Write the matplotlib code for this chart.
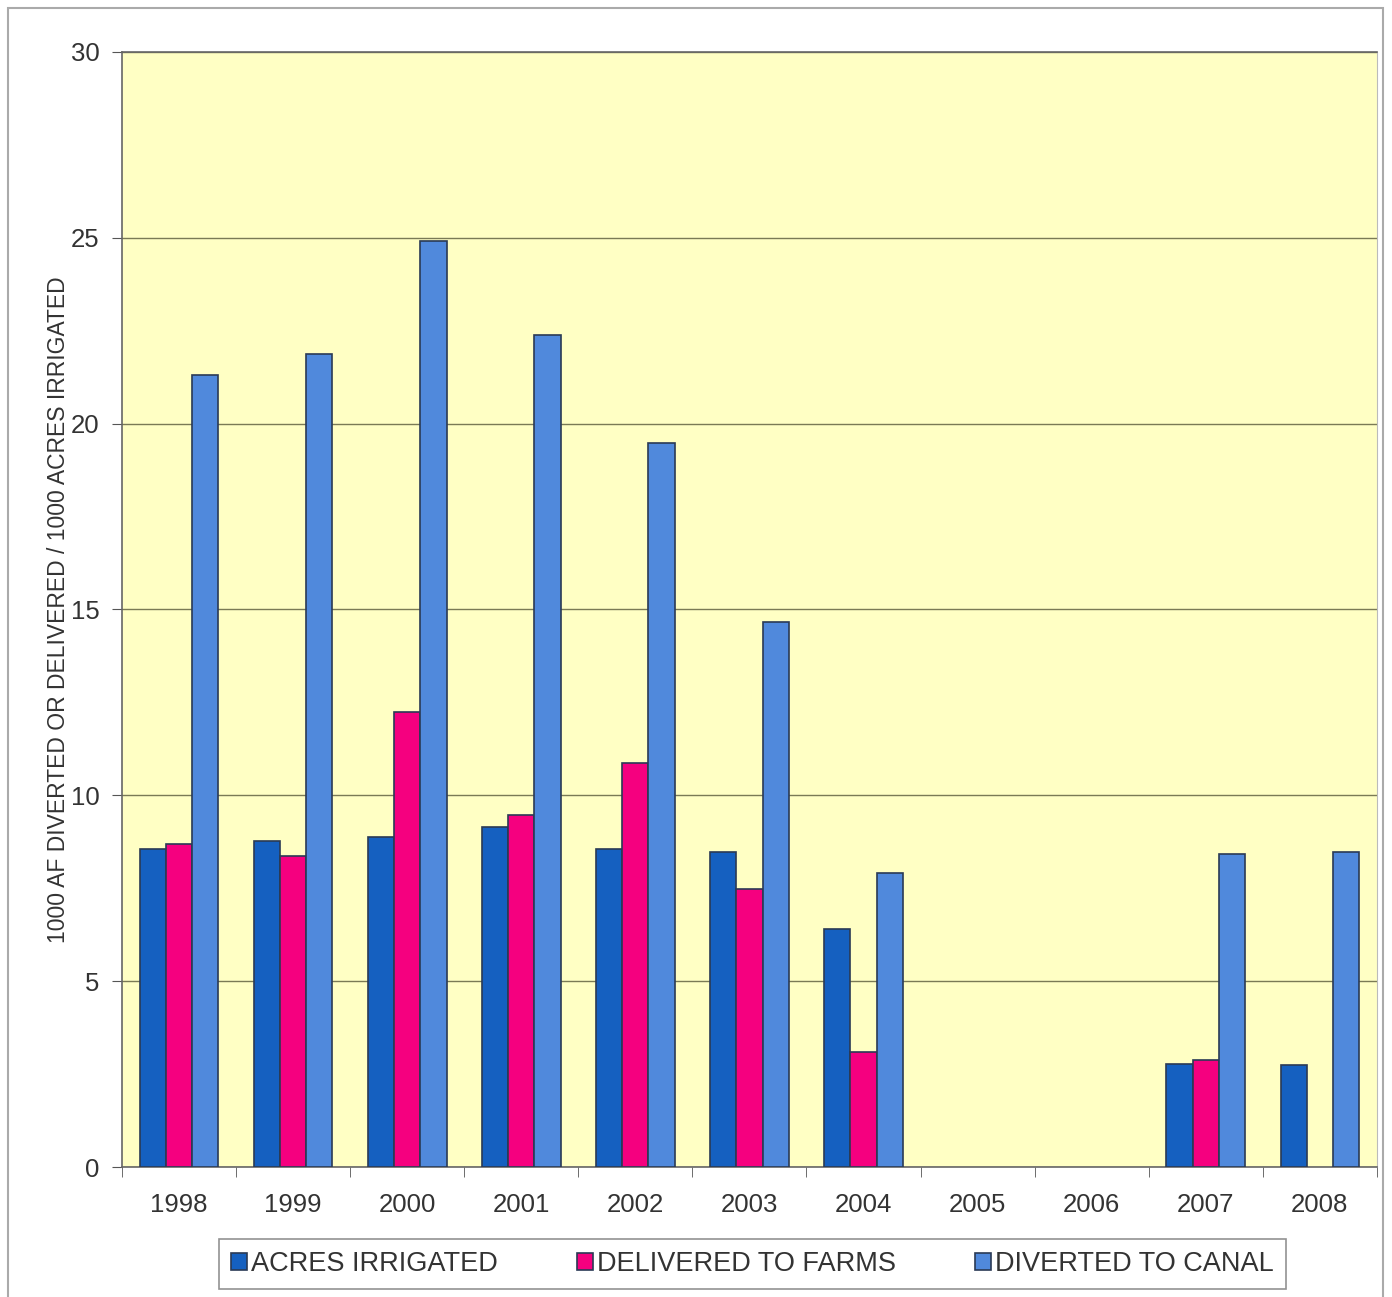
import numpy as np
import matplotlib.pyplot as plt
from matplotlib.patches import Rectangle

plt.rcParams['font.family'] = ['Liberation Sans', 'DejaVu Sans']

years = ['1998', '1999', '2000', '2001', '2002', '2003', '2004', '2005', '2006', '2007', '2008']
nan = np.nan
acres_irrigated = [8.56, 8.78, 8.89, 9.16, 8.56, 8.48, 6.41, nan, nan, 2.77, 2.75]
delivered_to_farms = [8.70, 8.38, 12.23, 9.48, 10.88, 7.47, 3.10, nan, nan, 2.88, nan]
diverted_to_canal = [21.30, 21.88, 24.91, 22.38, 19.47, 14.65, 7.92, nan, nan, 8.43, 8.48]

labels = ['ACRES IRRIGATED', 'DELIVERED TO FARMS', 'DIVERTED TO CANAL']
colors = ['#1560c0', '#f5007f', '#5089dc']

fig = plt.figure(figsize=(13.92, 12.97), dpi=100)
ax = fig.add_axes([0.0876, 0.1002, 0.9016, 0.8598])
ax.set_facecolor('#ffffc4')

x = np.arange(len(years))
w = 0.23
series = [acres_irrigated, delivered_to_farms, diverted_to_canal]
for i, vals in enumerate(series):
    ax.bar(x + (i - 1) * w, vals, width=w, color=colors[i], edgecolor='#2a3a55',
           linewidth=1.2, label=labels[i], zorder=3)

ax.set_xlim(-0.5, len(years) - 0.5)
ax.set_ylim(0, 30)
ax.set_yticks(range(0, 31, 5))
ax.yaxis.grid(True, color='#7a7a55', linewidth=1.0, zorder=0)
ax.set_axisbelow(True)

ax.set_xticks(x)
ax.set_xticklabels(years, fontsize=18.5, color='#333333')
ax.set_xticks(np.arange(-0.5, len(years)), minor=True)
ax.tick_params(axis='x', which='major', length=0, pad=19)
ax.tick_params(axis='x', which='minor', length=7, color='#555555', direction='out')
ax.tick_params(axis='y', labelsize=18.5, labelcolor='#333333', length=7,
               color='#555555', pad=9)

for s in ['left', 'bottom', 'top']:
    ax.spines[s].set_color('#666666')
    ax.spines[s].set_linewidth(1.2)
ax.spines['right'].set_color('#bbbbbb')

ax.set_ylabel('1000 AF DIVERTED OR DELIVERED / 1000 ACRES IRRIGATED', fontsize=16.5,
              color='#333333', labelpad=1)

leg = fig.legend(loc='center', bbox_to_anchor=(0.5405, 0.0255), ncol=3, fontsize=19.5,
                 frameon=True, fancybox=False, edgecolor='#777777',
                 handlelength=0.6, handleheight=0.6, handletextpad=0.15,
                 columnspacing=2.9, borderpad=0.45)
leg.get_frame().set_linewidth(1.2)
for t in leg.get_texts():
    t.set_color('#333333')

# outer frame of the chart area
fig.patches.append(Rectangle((8 / 1392, -0.01), 1375 / 1392, 1 - 8 / 1297 + 0.01,
                             transform=fig.transFigure, fill=False,
                             edgecolor='#aaaaaa', linewidth=1.5))

plt.savefig('out.png', dpi=100)
